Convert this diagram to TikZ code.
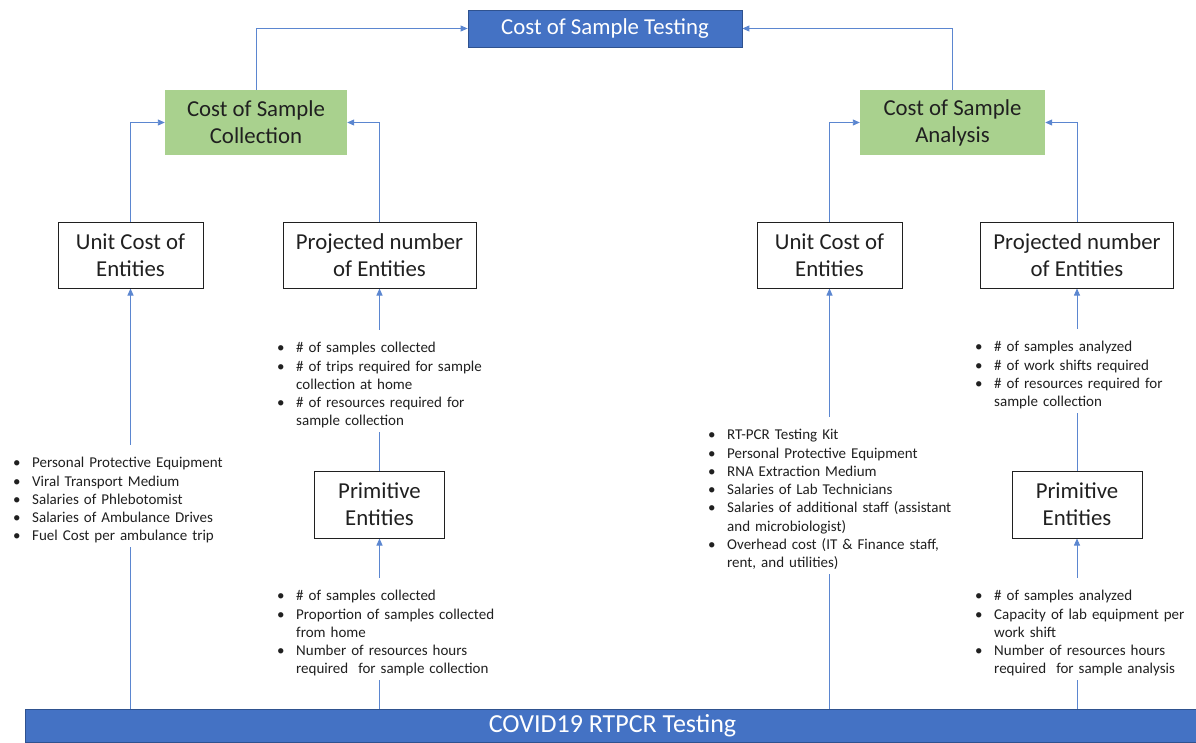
\documentclass[tikz,border=0pt]{standalone}
\usepackage{fontspec}
\setmainfont{Carlito}
\usetikzlibrary{arrows.meta}
\definecolor{cblue}{HTML}{4472C4}
\definecolor{cbluedark}{HTML}{2F528F}
\definecolor{cgreen}{HTML}{A9D18E}
\definecolor{cline}{HTML}{5B86D0}
\definecolor{ctext}{HTML}{202020}
\pgfdeclarelayer{bg}
\pgfsetlayers{bg,main}
\newcommand\li[1]{\par\noindent\hangindent=20pt\hangafter=1\makebox[20pt][l]{\hspace{1pt}\textbullet}#1\par}
\begin{document}
\begin{tikzpicture}[x=1pt,y=-1pt,
  bluebox/.style={draw=cbluedark, line width=0.8pt, fill=cblue, text=white, inner sep=0pt, font=\fontsize{22.8}{27}\selectfont},
  greenbox/.style={fill=cgreen, text=ctext, align=center, inner sep=0pt, font=\fontsize{22.8}{27}\selectfont},
  whitebox/.style={draw=ctext, line width=1pt, fill=white, text=ctext, align=center, inner sep=0pt, font=\fontsize{22.8}{27}\selectfont},
  bullets/.style={anchor=north west, fill=white, inner xsep=0pt, inner ysep=4pt, text=ctext, font=\fontsize{15}{18.3}\selectfont, align=left},
  conn/.style={draw=cline, line width=0.9pt, -{Triangle[length=7pt,width=6pt]}}
]
\useasboundingbox (0,0) rectangle (1196,742);

% top
\node[bluebox, minimum width=274pt, minimum height=37pt] (testing) at (605,28.5) {Cost of Sample Testing};

% green
\node[greenbox, minimum width=182pt, minimum height=65pt] (collectL) at (256,122.5) {Cost of Sample\\Collection};
\node[greenbox, minimum width=185pt, minimum height=65pt] (collectR) at (952.5,122.5) {Cost of Sample\\Analysis};

% white boxes
\node[whitebox, minimum width=145pt, minimum height=66pt] (unitL) at (130.5,255) {Unit Cost of\\Entities};
\node[whitebox, minimum width=193pt, minimum height=66pt] (projL) at (379.5,255) {Projected number\\of Entities};
\node[whitebox, minimum width=145pt, minimum height=66pt] (unitR) at (829.5,255) {Unit Cost of\\Entities};
\node[whitebox, minimum width=193pt, minimum height=66pt] (projR) at (1077,255) {Projected number\\of Entities};
\node[whitebox, minimum width=130pt, minimum height=67pt] (primL) at (379.5,504.5) {Primitive\\Entities};
\node[whitebox, minimum width=130pt, minimum height=67pt] (primR) at (1077,504.5) {Primitive\\Entities};

% bottom bar
\node[draw=cbluedark, line width=0.8pt, fill=cblue, text=white, inner sep=0pt, minimum width=1175pt, minimum height=33pt, font=\fontsize{26}{30}\selectfont] (bar) at (612.5,725.5) {COVID19 RTPCR Testing};

% bullet lists
\node[bullets, text width=222pt] (listA) at (12,445.2) {%
\li{Personal Protective Equipment}
\li{Viral Transport Medium}
\li{Salaries of Phlebotomist}
\li{Salaries of Ambulance Drives}
\li{Fuel Cost per ambulance trip}};

\node[bullets, text width=210pt] (listB) at (276,330.2) {%
\li{\# of samples collected}
\li{\# of trips required for sample\newline collection at home}
\li{\# of resources required for\newline sample collection}};

\node[bullets, text width=225pt] (listC) at (276,578.2) {%
\li{\# of samples collected}
\li{Proportion of samples collected\newline from home}
\li{Number of resources hours\newline required \ for sample collection}};

\node[bullets, text width=250pt] (listD) at (707,417.2) {%
\li{RT-PCR Testing Kit}
\li{Personal Protective Equipment}
\li{RNA Extraction Medium}
\li{Salaries of Lab Technicians}
\li{Salaries of additional staff (assistant\newline and microbiologist)}
\li{Overhead cost (IT \& Finance staff,\newline rent, and utilities)}};

\node[bullets, text width=215pt] (listE) at (974,329.2) {%
\li{\# of samples analyzed}
\li{\# of work shifts required}
\li{\# of resources required for\newline sample collection}};

\node[bullets, text width=220pt] (listF) at (974,578.2) {%
\li{\# of samples analyzed}
\li{Capacity of lab equipment per\newline work shift}
\li{Number of resources hours\newline required \ for sample analysis}};

\begin{pgfonlayer}{bg}
\draw[conn] (collectL.north) |- (testing.west);
\draw[conn] (collectR.north) |- (testing.east);
\draw[conn] (unitL.north) |- (collectL.west);
\draw[conn] (projL.north) |- (collectL.east);
\draw[conn] (unitR.north) |- (collectR.west);
\draw[conn] (projR.north) |- (collectR.east);
\draw[conn] (bar.north -| unitL) -- (unitL.south);
\draw[conn] (primL.north) -- (projL.south);
\draw[conn] (bar.north -| primL) -- (primL.south);
\draw[conn] (bar.north -| unitR) -- (unitR.south);
\draw[conn] (primR.north) -- (projR.south);
\draw[conn] (bar.north -| primR) -- (primR.south);
\end{pgfonlayer}
\end{tikzpicture}
\end{document}
